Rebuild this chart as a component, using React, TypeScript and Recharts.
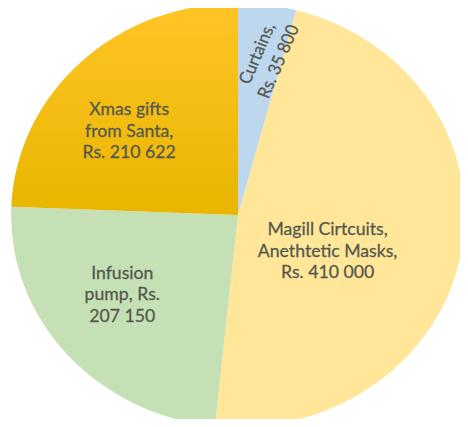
import React from 'react';
import { PieChart, Pie, Cell } from 'recharts';

const categories = ['Curtains', 'Magill Cirtcuits, Anethtetic Masks', 'Infusion pump', 'Xmas gifts from Santa'];
const values = [35800, 410000, 207150, 210622];
const labelLines = [
  ['Curtains,', 'Rs. 35 800'],
  ['Magill Cirtcuits,', 'Anethtetic Masks,', 'Rs. 410 000'],
  ['Infusion', 'pump, Rs.', '207 150'],
  ['Xmas gifts', 'from Santa,', 'Rs. 210 622'],
];
const colors = ['#BDD7EE', '#FFE699', '#C5E0B4', 'url(#xmasGrad)'];
// label placement as fractions of the radius, plus rotation
const labelPlace = [
  { fx: 0.125, fy: -0.745, rot: -68 },
  { fx: 0.395, fy: 0.165, rot: 0 },
  { fx: -0.51, fy: 0.37, rot: 0 },
  { fx: -0.48, fy: -0.4, rot: 0 },
];

const data = categories.map((name, i) => ({ name, value: values[i] }));

const renderLabel = (props: any) => {
  const { cx, cy, outerRadius, index } = props;
  const p = labelPlace[index];
  const x = cx + p.fx * outerRadius;
  const y = cy + p.fy * outerRadius;
  const lines = labelLines[index];
  const lh = 21.5;
  const startDy = -((lines.length - 1) * lh) / 2;
  return (
    <text
      x={x}
      y={y}
      textAnchor="middle"
      dominantBaseline="central"
      fill="#54574f"
      stroke="#54574f"
      strokeWidth={0.25}
      fontFamily="Lato, 'Open Sans', sans-serif"
      fontSize={16.5}
      transform={p.rot ? `rotate(${p.rot}, ${x}, ${y})` : undefined}
    >
      {lines.map((l, k) => (
        <tspan key={k} x={x} dy={k === 0 ? startDy : lh}>
          {l}
        </tspan>
      ))}
    </text>
  );
};

export default function App() {
  return (
    <div style={{ margin: -8, width: 468, height: 427, overflow: 'hidden', background: '#fff' }}>
      <div style={{ transform: 'scaleX(1.07)', transformOrigin: '238px 0px', width: 468, height: 440 }}>
        <PieChart width={468} height={440} margin={{ top: 0, right: 0, bottom: 0, left: 0 }}>
          <defs>
            <linearGradient id="xmasGrad" x1="0" y1="0" x2="0" y2="1">
              <stop offset="0%" stopColor="#FFC526" />
              <stop offset="100%" stopColor="#E8B500" />
            </linearGradient>
          </defs>
          <Pie
            data={data}
            dataKey="value"
            nameKey="name"
            cx={238}
            cy={215}
            outerRadius={212}
            startAngle={90}
            endAngle={-270}
            stroke="none"
            isAnimationActive={false}
            labelLine={false}
            label={renderLabel}
          >
            {data.map((d, i) => (
              <Cell key={d.name} fill={colors[i]} />
            ))}
          </Pie>
        </PieChart>
      </div>
    </div>
  );
}
